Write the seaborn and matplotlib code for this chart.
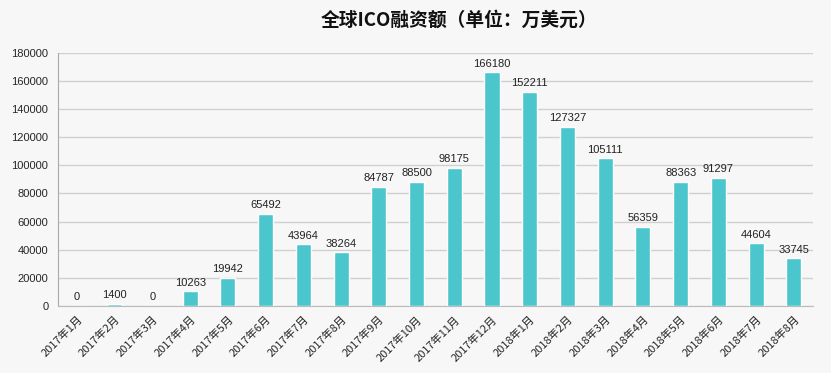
import numpy as np
import pandas as pd
import seaborn as sns
import matplotlib.pyplot as plt
from matplotlib.ticker import FixedLocator

months = ["2017年1月", "2017年2月", "2017年3月", "2017年4月", "2017年5月",
          "2017年6月", "2017年7月", "2017年8月", "2017年9月", "2017年10月",
          "2017年11月", "2017年12月", "2018年1月", "2018年2月", "2018年3月",
          "2018年4月", "2018年5月", "2018年6月", "2018年7月", "2018年8月"]
amount = [0, 1400, 0, 10263, 19942, 65492, 43964, 38264, 84787, 88500,
          98175, 166180, 152211, 127327, 105111, 56359, 88363, 91297, 44604, 33745]
yticks = list(range(0, 180001, 20000))

df = pd.DataFrame({"month": months, "amount": amount})

sns.set_style("white")
plt.rcParams['font.family'] = ['Noto Sans CJK SC', 'DejaVu Sans']

fig = plt.figure(figsize=(8.31, 3.73), dpi=100, facecolor="#f7f7f7")
ax = fig.add_axes([0.070, 0.180, 0.908, 0.678])
ax.set_facecolor("#f7f7f7")

sns.barplot(data=df, x="month", y="amount", color="#4bc6cc", width=0.4,
            saturation=1, ax=ax, zorder=3)

for i, v in enumerate(amount):
    ax.text(i, v + 2500, str(v), ha="center", va="bottom", fontsize=8,
            color="#222222", family=["Liberation Sans", "DejaVu Sans"])

ax.set_ylim(0, 180000)
ax.set_xlim(-0.5, len(months) - 0.5)
ax.set_yticks(yticks)
ax.set_yticklabels([str(t) for t in yticks], fontsize=8,
                   family=["Liberation Sans", "DejaVu Sans"])
ax.yaxis.grid(True, color="#d0d0d0", linewidth=1, zorder=0)
ax.tick_params(axis="y", length=4, color="#aaaaaa", pad=3)

ax.set_xticks(range(len(months)))
ax.set_xticklabels(months, rotation=45, ha="right", rotation_mode="anchor",
                   fontsize=8)
ax.tick_params(axis="x", which="major", length=0, pad=6)
ax.xaxis.set_minor_locator(FixedLocator(np.arange(-0.5, len(months), 1)))
ax.tick_params(axis="x", which="minor", length=5, color="#aaaaaa", direction="out")

for s in ["top", "right"]:
    ax.spines[s].set_visible(False)
ax.spines["left"].set_color("#aaaaaa")
ax.spines["bottom"].set_color("#bbbbbb")
ax.set_xlabel("")
ax.set_ylabel("")

fig.text(0.552, 0.945, "全球ICO融资额（单位：万美元）", ha="center", va="center",
         fontsize=13.5, fontweight="bold", color="#111111")

fig.savefig("out.png", dpi=100, facecolor=fig.get_facecolor())
